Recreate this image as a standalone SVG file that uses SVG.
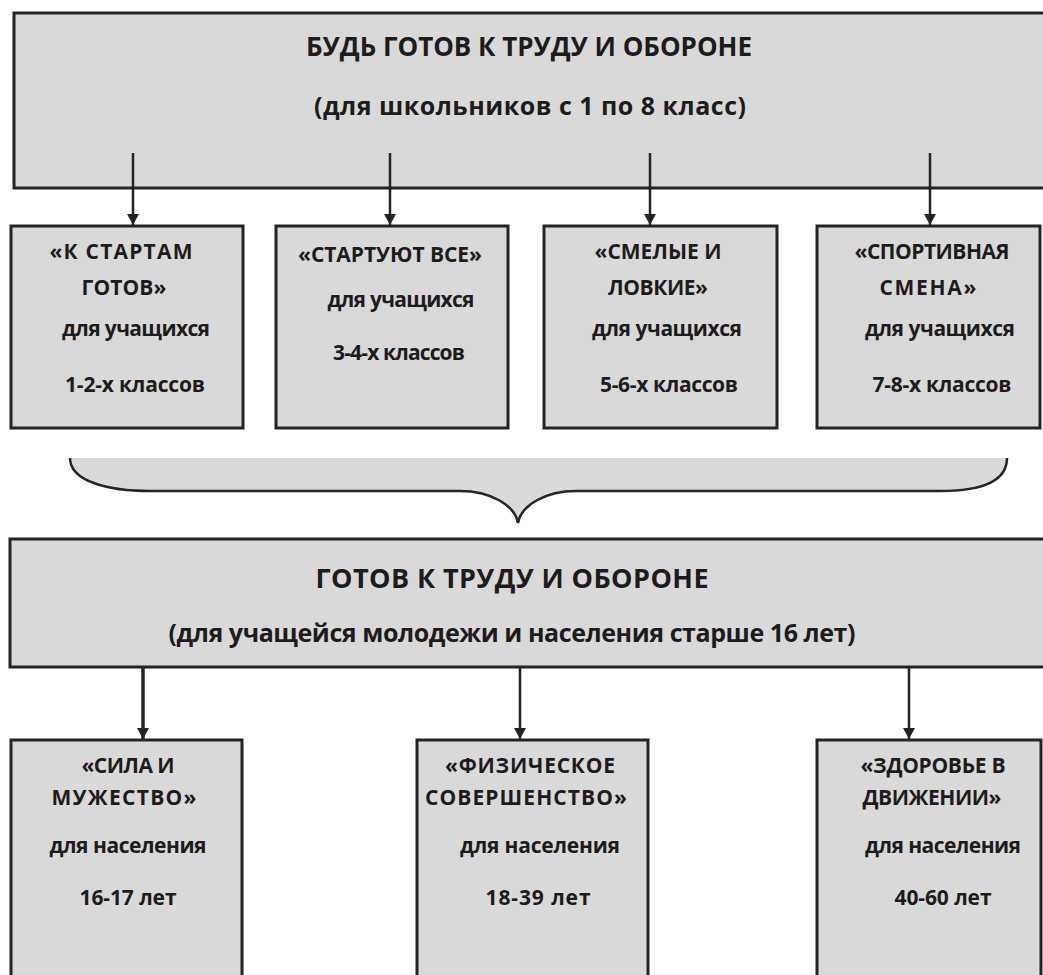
<svg xmlns="http://www.w3.org/2000/svg" width="1043" height="975" viewBox="0 0 1043 975">
<defs>
<marker id="ah" viewBox="0 0 11 12" refX="11" refY="6" markerWidth="11" markerHeight="12" markerUnits="userSpaceOnUse" orient="auto">
<path d="M0,0 L11,6 L0,12 Z" fill="#262324"/>
</marker>
<style>
.box{fill:#d9d9d9;stroke:#262324;stroke-width:3}
.t{font-family:"Open Sans","Liberation Sans",sans-serif;font-weight:700;font-size:21px;fill:#1e1b1c;text-anchor:middle}
.h{font-family:"Open Sans","Liberation Sans",sans-serif;font-weight:700;font-size:25px;fill:#1e1b1c;text-anchor:middle}
.c{stroke:#262324;stroke-width:2.5;fill:none}
</style>
</defs>
<rect width="1043" height="975" fill="#ffffff"/>

<g id="top">
<rect class="box" x="14" y="13" width="1040" height="175"/>
<text class="h" x="529" y="56" textLength="446" style="font-size:26px">БУДЬ ГОТОВ К ТРУДУ И ОБОРОНЕ</text>
<text class="h" x="530" y="115" textLength="432">(для школьников с 1 по 8 класс)</text>
</g>

<g id="n1">
<rect class="box" x="11" y="226" width="232" height="202"/>
<text class="t" x="121" y="259" textLength="143">«К СТАРТАМ</text>
<text class="t" x="124" y="295" textLength="85">ГОТОВ»</text>
<text class="t" x="136" y="336" textLength="148">для учащихся</text>
<text class="t" x="135" y="392" textLength="140">1-2-х классов</text>
</g>
<g id="n2">
<rect class="box" x="276" y="226" width="232" height="202"/>
<text class="t" x="390" y="262" textLength="184">«СТАРТУЮТ ВСЕ»</text>
<text class="t" x="401" y="307" textLength="147">для учащихся</text>
<text class="t" x="399" y="360" textLength="132">3-4-х классов</text>
</g>
<g id="n3">
<rect class="box" x="544" y="226" width="233" height="202"/>
<text class="t" x="658" y="259" textLength="127">«СМЕЛЫЕ И</text>
<text class="t" x="658" y="295" textLength="100">ЛОВКИЕ»</text>
<text class="t" x="667" y="336" textLength="150">для учащихся</text>
<text class="t" x="669" y="392" textLength="138">5-6-х классов</text>
</g>
<g id="n4">
<rect class="box" x="817" y="226" width="223" height="202"/>
<text class="t" x="932" y="259" textLength="155">«СПОРТИВНАЯ</text>
<text class="t" x="928" y="295" textLength="97">СМЕНА»</text>
<text class="t" x="940" y="336" textLength="150">для учащихся</text>
<text class="t" x="942" y="392" textLength="139">7-8-х классов</text>
</g>

<g id="brace">
<path d="M70,458 C70,482 110,491 150,491 L460,491 C490,491 515,505 518,523 C521,505 546,491 576,491 L940,491 C980,491 1007,482 1007,458 Z" fill="#d9d9d9" stroke="none"/>
<path d="M70,458 C70,482 110,491 150,491 L460,491 C490,491 515,505 518,523 C521,505 546,491 576,491 L940,491 C980,491 1007,482 1007,458" class="c"/>
</g>

<g id="mid">
<rect class="box" x="10" y="539" width="1045" height="128"/>
<text class="h" x="512" y="588" textLength="393" style="font-size:27px">ГОТОВ К ТРУДУ И ОБОРОНЕ</text>
<text class="h" x="512" y="642" textLength="687">(для учащейся молодежи и населения старше 16 лет)</text>
</g>

<g id="m1">
<rect class="box" x="11" y="740" width="231" height="250"/>
<text class="t" x="128" y="773" textLength="93">«СИЛА И</text>
<text class="t" x="124" y="805" textLength="145">МУЖЕСТВО»</text>
<text class="t" x="128" y="853" textLength="157">для населения</text>
<text class="t" x="128" y="905" textLength="97">16-17 лет</text>
</g>
<g id="m2">
<rect class="box" x="417" y="740" width="231" height="250"/>
<text class="t" x="530" y="773" textLength="170">«ФИЗИЧЕСКОЕ</text>
<text class="t" x="526" y="805" textLength="202">СОВЕРШЕНСТВО»</text>
<text class="t" x="540" y="853" textLength="160">для населения</text>
<text class="t" x="538" y="905" textLength="105">18-39 лет</text>
</g>
<g id="m3">
<rect class="box" x="817" y="740" width="224" height="250"/>
<text class="t" x="933" y="773" textLength="145">«ЗДОРОВЬЕ В</text>
<text class="t" x="932" y="805" textLength="139">ДВИЖЕНИИ»</text>
<text class="t" x="943" y="853" textLength="156">для населения</text>
<text class="t" x="943" y="905" textLength="97">40-60 лет</text>
</g>

<g id="connectors">
<line class="c" x1="133" y1="153" x2="133" y2="225" marker-end="url(#ah)"/>
<line class="c" x1="390" y1="153" x2="390" y2="225" marker-end="url(#ah)"/>
<line class="c" x1="650" y1="153" x2="650" y2="225" marker-end="url(#ah)"/>
<line class="c" x1="930" y1="153" x2="930" y2="225" marker-end="url(#ah)"/>
<line class="c" x1="143" y1="667" x2="143" y2="739" marker-end="url(#ah)" style="stroke-width:3.5"/>
<line class="c" x1="520" y1="667" x2="520" y2="739" marker-end="url(#ah)"/>
<line class="c" x1="909" y1="667" x2="909" y2="739" marker-end="url(#ah)"/>
</g>
</svg>
